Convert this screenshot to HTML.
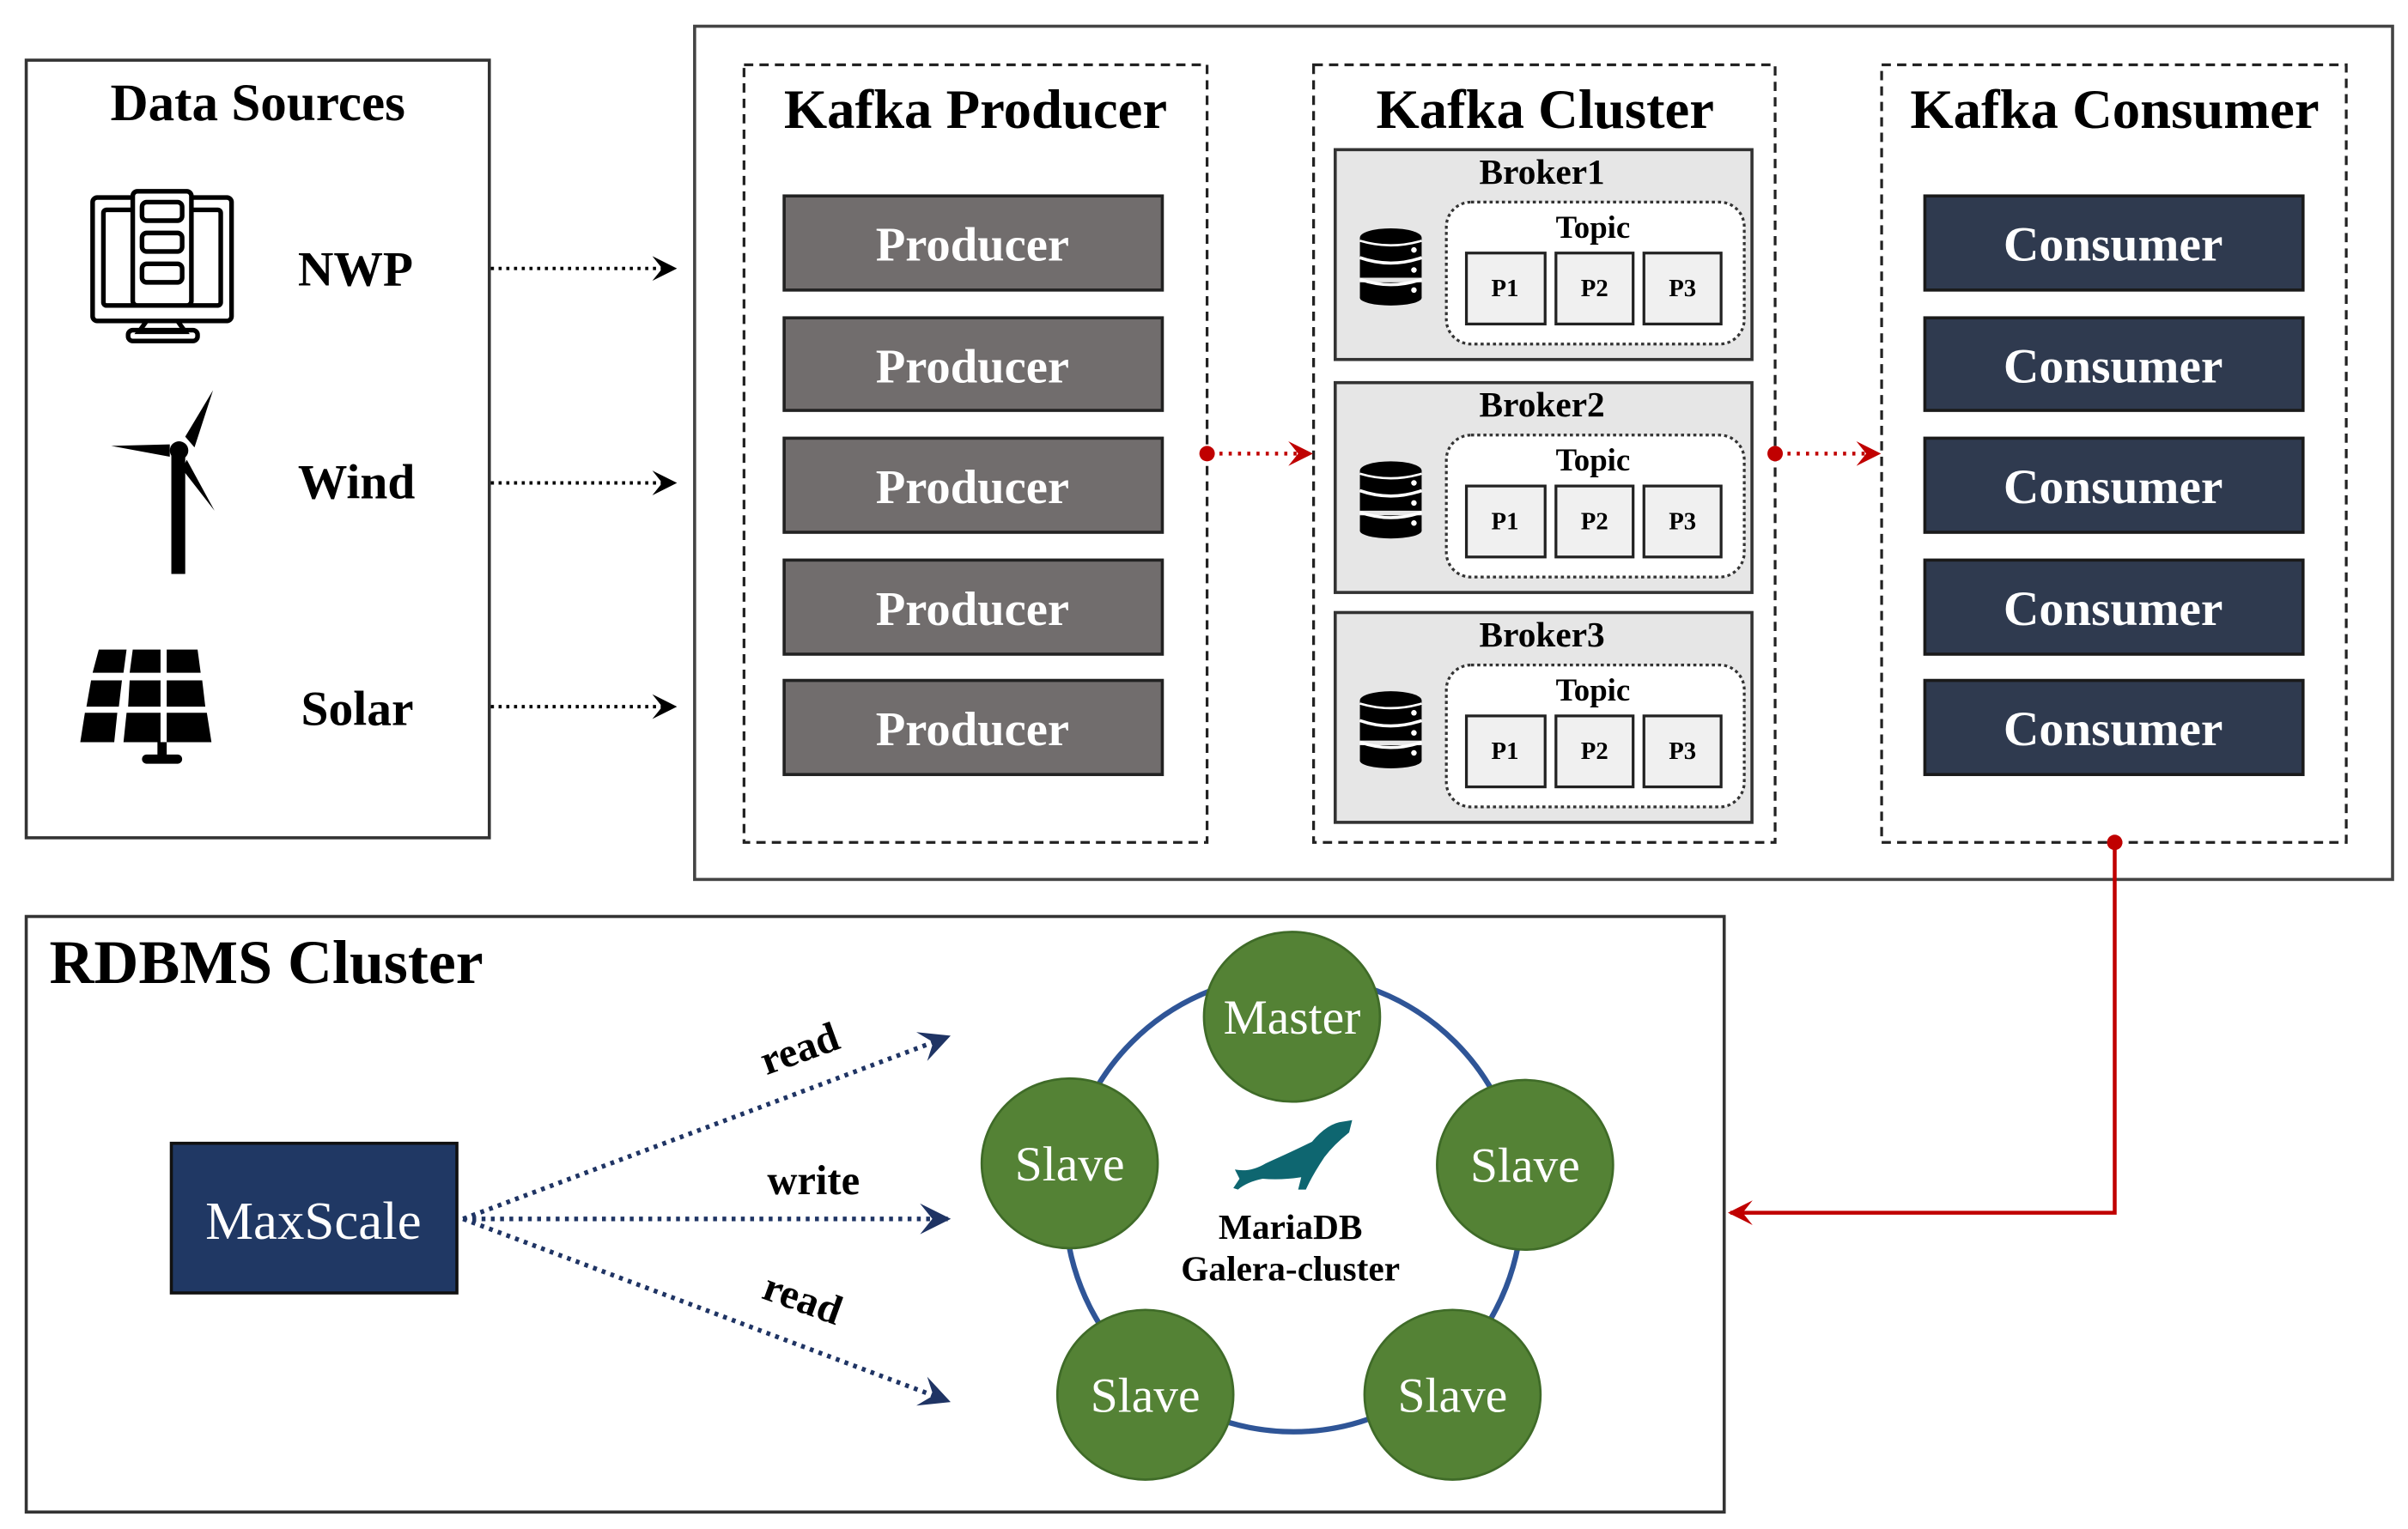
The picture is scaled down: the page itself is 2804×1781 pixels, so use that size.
<!DOCTYPE html>
<html><head><meta charset="utf-8"><style>
html,body{margin:0;padding:0;background:#fff;}
svg{display:block;}
text{font-family:"Liberation Serif",serif;}
</style></head><body>
<svg width="2804" height="1781" viewBox="0 0 1560 991" preserveAspectRatio="none" xmlns="http://www.w3.org/2000/svg">
<defs>
<marker id="ab" viewBox="0 0 10 10" refX="9" refY="5" markerWidth="16" markerHeight="16" markerUnits="userSpaceOnUse" orient="auto"><path d="M0,0 L10,5 L0,10 L4,5 Z" fill="#000"/></marker>
<marker id="ar" viewBox="0 0 10 10" refX="9" refY="5" markerWidth="16" markerHeight="16" markerUnits="userSpaceOnUse" orient="auto"><path d="M0,0 L10,5 L0,10 L4,5 Z" fill="#c00000"/></marker>
<marker id="an" viewBox="0 0 10 10" refX="9" refY="5" markerWidth="20" markerHeight="20" markerUnits="userSpaceOnUse" orient="auto"><path d="M0,0 L10,5 L0,10 L4,5 Z" fill="#1f3464"/></marker>
<g id="db"><ellipse cx="20" cy="6" rx="20" ry="6" fill="#000"/><rect x="0" y="6" width="40" height="12" fill="#000"/><ellipse cx="20" cy="18" rx="20" ry="5" fill="#000"/><rect x="0" y="20" width="40" height="12" fill="#000"/><rect x="0" y="35" width="40" height="10" fill="#000"/><ellipse cx="20" cy="45" rx="20" ry="5" fill="#000"/><path d="M0,19 Q20,26 40,19 M0,33 Q20,40 40,33" stroke="#fff" stroke-width="2" fill="none"/><path d="M0,8 Q20,14 40,8" stroke="#fff" stroke-width="1.5" fill="none"/><circle cx="35" cy="27" r="1.8" fill="#fff"/><circle cx="35" cy="40" r="1.8" fill="#fff"/><circle cx="35" cy="14" r="1.8" fill="#fff"/></g>
</defs>

<!-- Data sources -->
<rect x="17" y="39" width="300" height="504" fill="none" stroke="#333" stroke-width="2"/>
<text x="167" y="78" font-size="34" font-weight="bold" text-anchor="middle">Data Sources</text>
<g fill="none" stroke="#000" stroke-width="3">
<rect x="60" y="128" width="90" height="80" rx="3"/>
<rect x="67" y="136" width="76" height="62" rx="2"/>
<rect x="86" y="124" width="38" height="74" rx="3" fill="#fff"/>
<rect x="92" y="131" width="26" height="12" rx="3"/><rect x="92" y="151" width="26" height="12" rx="3"/><rect x="92" y="171" width="26" height="12" rx="3"/>
<path d="M95,208 L90,215 L120,215 L115,208"/><rect x="83" y="214" width="45" height="7" rx="3"/>
</g>
<text x="193" y="185" font-size="32" font-weight="bold">NWP</text>
<g fill="#000"><rect x="111" y="295" width="9" height="77"/><circle cx="116" cy="292" r="6"/>
<path d="M120,283 L138,253 L126,290 Z"/><path d="M110,288 L72,289 L110,296 Z"/><path d="M121,298 L139,331 L118,304 Z"/></g>
<text x="193" y="323" font-size="32" font-weight="bold">Wind</text>
<g fill="#000">
<path d="M64,421 L82,421 L80,436 L60,436Z M86,421 L104,421 L104,436 L84,436Z M108,421 L128,421 L130,436 L108,436Z"/>
<path d="M59,441 L79,441 L77,458 L56,458Z M84,441 L104,441 L104,458 L83,458Z M108,441 L131,441 L133,458 L108,458Z"/>
<path d="M55,462 L76,462 L74,481 L52,481Z M82,462 L104,462 L104,481 L80,481Z M108,462 L134,462 L137,481 L108,481Z"/>
<rect x="102" y="481" width="6" height="10"/><rect x="92" y="489" width="26" height="6" rx="3"/>
</g>
<text x="195" y="470" font-size="32" font-weight="bold">Solar</text>
<g stroke="#000" stroke-width="2.2" stroke-dasharray="2 3" fill="none">
<line x1="318" y1="174" x2="437" y2="174" marker-end="url(#ab)"/>
<line x1="318" y1="313" x2="437" y2="313" marker-end="url(#ab)"/>
<line x1="318" y1="458" x2="437" y2="458" marker-end="url(#ab)"/>
</g>

<!-- Kafka outer -->
<rect x="450" y="17" width="1100" height="553" fill="none" stroke="#444" stroke-width="2"/>
<g fill="none" stroke="#222" stroke-width="1.8" stroke-dasharray="6 4">
<rect x="482" y="42" width="300" height="504"/>
<rect x="851" y="42" width="299" height="504"/>
<rect x="1219" y="42" width="301" height="504"/>
</g>
<text x="632" y="83" font-size="36" font-weight="bold" text-anchor="middle">Kafka Producer</text>
<text x="1001" y="83" font-size="36" font-weight="bold" text-anchor="middle">Kafka Cluster</text>
<text x="1370" y="83" font-size="36" font-weight="bold" text-anchor="middle">Kafka Consumer</text>

<g fill="#716d6d" stroke="#222" stroke-width="2">
<rect x="508" y="127" width="245" height="61"/><rect x="508" y="206" width="245" height="60"/><rect x="508" y="284" width="245" height="61"/><rect x="508" y="363" width="245" height="61"/><rect x="508" y="441" width="245" height="61"/>
</g>
<g fill="#fff" font-size="31.5" font-weight="bold" text-anchor="middle">
<text x="630" y="169">Producer</text><text x="630" y="248">Producer</text><text x="630" y="326">Producer</text><text x="630" y="405">Producer</text><text x="630" y="483">Producer</text>
</g>
<g fill="#2f3a4f" stroke="#1a1a1a" stroke-width="2">
<rect x="1247" y="127" width="245" height="61"/><rect x="1247" y="206" width="245" height="60"/><rect x="1247" y="284" width="245" height="61"/><rect x="1247" y="363" width="245" height="61"/><rect x="1247" y="441" width="245" height="61"/>
</g>
<g fill="#fff" font-size="32" font-weight="bold" text-anchor="middle">
<text x="1369" y="169">Consumer</text><text x="1369" y="248">Consumer</text><text x="1369" y="326">Consumer</text><text x="1369" y="405">Consumer</text><text x="1369" y="483">Consumer</text>
</g>

<!-- Brokers -->
<g id="br1">
<rect x="865" y="97" width="270" height="136" fill="#e6e6e6" stroke="#333" stroke-width="2"/>
<rect x="937" y="131" width="193" height="92" rx="16" fill="#fff" stroke="#333" stroke-width="1.8" stroke-dasharray="2 2"/>
<g fill="#f0f0f0" stroke="#222" stroke-width="1.8"><rect x="950" y="164" width="51" height="46"/><rect x="1008" y="164" width="50" height="46"/><rect x="1065" y="164" width="50" height="46"/></g>
<g font-size="16" font-weight="bold" text-anchor="middle"><text x="975" y="192">P1</text><text x="1033" y="192">P2</text><text x="1090" y="192">P3</text></g>
<text x="1032" y="154" font-size="20.5" font-weight="bold" text-anchor="middle">Topic</text>
<use href="#db" x="881" y="148"/>
</g>
<use href="#br1" y="151"/>
<use href="#br1" y="300"/>
<g font-size="23" font-weight="bold" text-anchor="middle"><text x="999" y="119">Broker1</text><text x="999" y="270">Broker2</text><text x="999" y="419">Broker3</text></g>

<!-- red arrows -->
<g stroke="#c00000" stroke-width="2.5" fill="none">
<line x1="784" y1="294" x2="849" y2="294" stroke-dasharray="2 4" marker-end="url(#ar)"/>
<line x1="1152" y1="294" x2="1217" y2="294" stroke-dasharray="2 4" marker-end="url(#ar)"/>
<polyline points="1370,546 1370,786 1121,786" marker-end="url(#ar)"/>
</g>
<g fill="#c00000"><circle cx="782" cy="294" r="5"/><circle cx="1150" cy="294" r="5"/><circle cx="1370" cy="546" r="5"/></g>

<!-- RDBMS -->
<rect x="17" y="594" width="1100" height="386" fill="none" stroke="#333" stroke-width="2"/>
<text x="32" y="637" font-size="40" font-weight="bold">RDBMS Cluster</text>
<rect x="111" y="741" width="185" height="97" fill="#203864" stroke="#111" stroke-width="2"/>
<text x="203" y="803" font-size="35" fill="#fff" text-anchor="middle">MaxScale</text>
<g stroke="#1f3464" stroke-width="3" stroke-dasharray="2.5 3.5" fill="none">
<line x1="300" y1="790" x2="614" y2="672" marker-end="url(#an)"/>
<line x1="300" y1="790" x2="614" y2="790" marker-end="url(#an)"/>
<line x1="300" y1="790" x2="614" y2="908" marker-end="url(#an)"/>
</g>
<text x="0" y="0" font-size="27" font-weight="bold" text-anchor="middle" transform="translate(521,688) rotate(-20)">read</text>
<text x="527" y="774" font-size="27" font-weight="bold" text-anchor="middle">write</text>
<text x="0" y="0" font-size="27" font-weight="bold" text-anchor="middle" transform="translate(517,850) rotate(20)">read</text>

<circle cx="838" cy="780" r="148" fill="none" stroke="#2f5597" stroke-width="3.5"/>
<g fill="#548235" stroke="#3f6b28" stroke-width="1.5">
<ellipse cx="837" cy="659" rx="57" ry="55"/>
<ellipse cx="693" cy="754" rx="57" ry="55"/>
<ellipse cx="988" cy="755" rx="57" ry="55"/>
<ellipse cx="742" cy="904" rx="57" ry="55"/>
<ellipse cx="941" cy="904" rx="57" ry="55"/>
</g>
<g fill="#fff" font-size="32" text-anchor="middle">
<text x="837" y="670">Master</text><text x="693" y="765">Slave</text><text x="988" y="766">Slave</text><text x="742" y="915">Slave</text><text x="941" y="915">Slave</text>
</g>
<path d="M870,727 L876,726 L874,734 Q864,742 858,750 Q850,762 846,771 L841,771 L843,763 Q830,765 818,764 Q808,766 802,771 L799,770 L803,764 L800,758 Q810,760 820,754 Q838,746 850,740 Q860,728 870,727 Z" fill="#0e6670"/>
<text x="836" y="803" font-size="23" font-weight="bold" text-anchor="middle">MariaDB</text>
<text x="836" y="830" font-size="23" font-weight="bold" text-anchor="middle">Galera-cluster</text>
</svg>
</body></html>
